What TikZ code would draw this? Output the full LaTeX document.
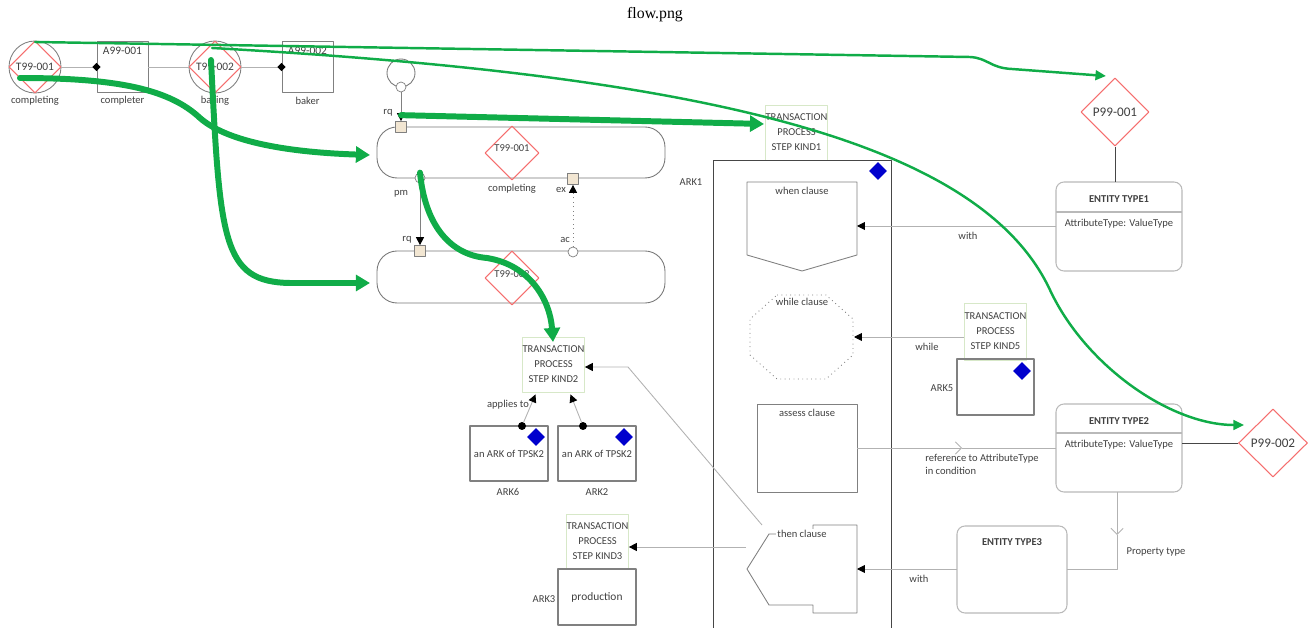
\documentclass[tikz,border=0pt]{standalone}
\usepackage{fontspec}
\setmainfont{Carlito}
\newfontfamily\titlefont{Liberation Serif}
\usetikzlibrary{shapes.geometric,arrows.meta,calc}
\definecolor{txt}{RGB}{64,64,64}
\definecolor{boxgray}{RGB}{128,128,128}
\definecolor{linegray}{RGB}{178,178,178}
\definecolor{procgray}{RGB}{120,120,120}
\definecolor{diared}{RGB}{245,110,110}
\definecolor{paleg}{RGB}{215,232,200}
\definecolor{portfill}{RGB}{242,230,210}
\definecolor{arkblue}{RGB}{0,0,205}
\definecolor{dkline}{RGB}{70,70,70}
\definecolor{entgray}{RGB}{185,185,185}
\definecolor{flowgreen}{RGB}{16,172,72}
\begin{document}
\begin{tikzpicture}[x=0.02cm,y=-0.02cm,
  font=\fontsize{6}{7.5}\selectfont, text=txt, line join=round,
  every node/.style={inner sep=0pt},
  tcirc/.style={circle, draw=boxgray, line width=0.5pt, minimum size=1.04cm},
  rdiam/.style={diamond, draw=diared, line width=0.6pt},
  abox/.style={draw=boxgray, line width=0.5pt, minimum width=1.02cm, minimum height=1.02cm},
  proc/.style={draw=procgray, line width=0.5pt, rounded corners=0.4cm, minimum width=5.76cm},
  port/.style={rectangle, draw=boxgray, fill=portfill, line width=0.4pt, minimum size=0.22cm},
  pcirc/.style={circle, draw=boxgray, fill=white, line width=0.4pt, minimum size=0.2cm},
  tpsk/.style={draw=paleg, line width=0.5pt, align=center, minimum width=1.1cm,
    minimum height=1.1cm, font=\fontsize{6}{8.5}\selectfont},
  arkbox/.style={draw=boxgray, line width=0.6pt, minimum width=1.56cm, minimum height=1.1cm},
  bdiam/.style={diamond, fill=arkblue, minimum size=0.36cm},
  kdiam/.style={diamond, fill=black, minimum size=0.17cm},
  kdot/.style={circle, fill=black, minimum size=0.16cm},
  conn/.style={draw=linegray, line width=0.5pt},
  dconn/.style={draw=dkline, line width=0.5pt},
  arr/.style={-{Triangle[length=4.5pt,width=4.5pt,color=black]}},
  barb/.style={-{Straight Barb[length=3.5pt,width=7pt]}},
  clause/.style={draw=boxgray, line width=0.5pt},
  ent/.style={draw=entgray, line width=0.6pt, rounded corners=0.16cm},
  gthick/.style={draw=flowgreen, line width=3.4pt, line cap=round,
    -{Triangle[length=8pt,width=9pt]}},
  gthin/.style={draw=flowgreen, line width=1.4pt, line cap=round,
    -{Triangle[length=6pt,width=5.5pt]}}]
\useasboundingbox (0,0) rectangle (1309,628);

\node (title) at (655,15) {\titlefont\fontsize{9}{10}\selectfont\color{black}flow.png};

% ---------- actor row ----------
\node[tcirc] (t1c) at (35,67) {};
\node[rdiam, minimum width=1.04cm, minimum height=1.04cm] (t1d) at (35,67) {};
\node (t1t) at (35,67) {\fontsize{6.5}{7}\selectfont T99-001};
\node (t1l) at (35,101) {completing};

\node[abox] (a1) at (122.5,67) {};
\node (a1t) at (122.5,51) {\fontsize{6.5}{7}\selectfont A99-001};
\node (a1l) at (122.5,101) {completer};

\node[tcirc] (t2c) at (215,67) {};
\node[rdiam, minimum width=1.04cm, minimum height=1.04cm] (t2d) at (215,67) {};
\node (t2t) at (215,67) {\fontsize{6.5}{7}\selectfont T99-002};
\node (t2l) at (215,101) {baking};

\node[abox] (a2) at (307.5,67) {};
\node (a2t) at (307.5,51) {\fontsize{6.5}{7}\selectfont A99-002};
\node (a2l) at (307.5,101) {baker};

\draw[conn] (t1c.east) -- (a1.west);
\draw[conn] (a1.east) -- (t2c.west);
\draw[conn] (t2c.east) -- (a2.west);
\node[kdiam] (a1m) at (a1.west) {};
\node[kdiam] (a2m) at (a2.west) {};

% ---------- transaction processes ----------
\node[proc, minimum height=1.02cm] (p1) at (521,152.5) {};
\node[rdiam, minimum width=1.08cm, minimum height=1.08cm] (p1d) at (512,153) {};
\node (p1dt) at (512,148) {T99-001};
\node (p1l) at (512,189) {completing};

\node[proc, minimum height=1.04cm] (p2) at (521,277) {};
\node[rdiam, minimum width=1.08cm, minimum height=1.08cm] (p2d) at (512,278) {};
\node (p2dt) at (512,274) {T99-002};

\node[circle, draw=procgray, line width=0.5pt, minimum size=0.56cm] (ini) at (401,73) {};
\node[pcirc] (inis) at (401,87) {};
\node[port] (rq1) at (401,127) {};
\node[pcirc] (pm) at (420,178) {};
\node[port] (ex) at (573,179) {};
\node[port] (rq2) at (420,251) {};
\node[pcirc] (ac) at (573,252) {};

\draw[conn, draw=boxgray, arr] (inis.south) -- (rq1.north);
\draw[conn, draw=boxgray, arr] (pm.south) -- (rq2.north);
\draw[conn, draw=boxgray, dotted, arr] (ac.north) -- (ex.south);

\node (rq1l) at (388,113) {rq};
\node (pml) at (401,194) {pm};
\node (exl) at (561,190) {ex};
\node (rq2l) at (407,240) {rq};
\node (acl) at (565,240) {ac};

% ---------- step kinds and ARKs ----------
\node[tpsk] (tp1) at (796.5,132.5) {TRANSACTION\\PROCESS\\STEP KIND1};
\node[tpsk] (tp2) at (553.5,364.5) {TRANSACTION\\PROCESS\\STEP KIND2};
\node[tpsk] (tp3) at (597.5,541.5) {TRANSACTION\\PROCESS\\STEP KIND3};
\node[tpsk, minimum height=1.14cm] (tp5) at (995.5,331.5) {TRANSACTION\\PROCESS\\STEP KIND5};

\node[arkbox] (ark6) at (509,453.5) {an ARK of TPSK2};
\node[arkbox] (ark2) at (597,453.5) {an ARK of TPSK2};
\node[arkbox, minimum height=1.12cm] (ark3) at (597,597) {\fontsize{6.5}{7}\selectfont production};
\node[arkbox, minimum width=1.54cm, minimum height=1.12cm] (ark5) at (995.5,387) {};
\node[bdiam] (b6) at (536,437) {};
\node[bdiam] (b2) at (624,437) {};
\node[bdiam] (b5) at (1022,371) {};

\node (ark6l) at (508,492) {ARK6};
\node (ark2l) at (597,492) {ARK2};
\node (ark3l) at (544,599) {ARK3};
\node (ark5l) at (942,388) {ARK5};

\node[kdot] (d6) at (522,426) {};
\node[kdot] (d2) at (583,426) {};
\draw[conn, arr] (d6) -- ($(tp2.south)+(-18,2)$);
\draw[conn, arr] (d2) -- ($(tp2.south)+(17,2)$);
\node (appl) at (508,405) {applies to};

% ---------- ARK1 with its clauses ----------
\draw[draw=dkline, line width=0.55pt] (713,640) -- (713,160) -- (891,160) -- (891,640);
\node (ark1l) at (691,182) {ARK1};
\node[bdiam] (b1) at (878,171) {};

\draw[clause] (747,182) -- (857,182) -- (857,255) -- (802,271) -- (747,255) -- cycle;
\node (whent) at (802,191) {when clause};
\coordinate (whenR) at (857,226);

\draw[clause, dotted] (777,295) -- (826,295) -- (853,319) -- (853,355) -- (826,379)
  -- (777,379) -- (750,355) -- (750,319) -- cycle;
\node (whilet) at (802,302) {while clause};
\coordinate (whileR) at (854,337);

\draw[clause] (757,404) rectangle (857,492);
\node (assesst) at (807,413) {assess clause};
\coordinate (assessR) at (857,448);

\draw[clause] (813,534) -- (813,525) -- (857,525) -- (857,613) -- (813,613) -- (813,605)
  -- (769,605) -- (747,569) -- (769,534) -- cycle;
\node[fill=white, inner sep=1pt] (thent) at (802,534) {then clause};
\coordinate (thenR) at (857,569);
\coordinate (thenL) at (746,547);
\coordinate (thenT) at (762,525);
\coordinate (bend) at (628,367);

% ---------- entity types ----------
\draw[ent] (1056,182) rectangle (1182,271);
\draw[draw=entgray, line width=0.6pt] (1056,212) -- (1182,212);
\node (e1t) at (1119,199) {\bfseries ENTITY TYPE1};
\node (e1a) at (1119,224) {AttributeType: ValueType};
\coordinate (e1N) at (1115,182);
\coordinate (e1W) at (1056,226);

\draw[ent] (1056,404) rectangle (1182,492);
\draw[draw=entgray, line width=0.6pt] (1056,433) -- (1182,433);
\node (e2t) at (1119,421) {\bfseries ENTITY TYPE2};
\node (e2a) at (1119,445) {AttributeType: ValueType};
\coordinate (e2W) at (1056,448);
\coordinate (e2E) at (1182,443);
\coordinate (e2S) at (1117,492);

\draw[ent] (957,526) rectangle (1067,613);
\node (e3t) at (1012,542) {\bfseries ENTITY TYPE3};
\coordinate (e3W) at (957,569);
\coordinate (e3E) at (1067,569);

\node[rdiam, minimum width=1.36cm, minimum height=1.36cm] (pp1) at (1115,112) {};
\node (pp1t) at (1115,112) {\fontsize{7.5}{8}\selectfont P99-001};
\node[rdiam, minimum width=1.38cm, minimum height=1.36cm] (pp2) at (1273,443) {};
\node (pp2t) at (1273,443) {\fontsize{7.5}{8}\selectfont P99-002};

% ---------- connectors ----------
\draw[dconn] (pp1.south) -- (e1N);
\draw[dconn] (e2E) -- (pp2.west);

\draw[conn, arr] (e1W) -- (whenR);
\node (withl1) at (968,236) {with};
\draw[conn, arr] (tp5.west |- whileR) -- (whileR);
\node (whilel) at (927,347) {while};

\coordinate (refarr) at (962,448);
\draw[conn, barb] (assessR) -- (refarr);
\draw[conn] (refarr) -- (e2W);
\node[align=left, anchor=north west] (refl) at (925,454) {reference to AttributeType\\in condition};

\coordinate (proparr) at (1117,535);
\draw[conn, barb] (e2S) -- (proparr);
\draw[conn] (proparr) -- (1117,569) -- (e3E);
\node (propl) at (1156,552) {Property type};

\draw[conn, arr] (e3W) -- (thenR);
\node (withl2) at (919,579) {with};

\draw[conn, arr] (thenL) -- (tp3.east |- thenL);
\draw[conn, arr] (thenT) -- (bend) -- (tp2.east |- bend);

% ---------- green flow overlay ----------
\coordinate (g1s) at (35,42);
\coordinate (g2s) at (212,48);
\coordinate (g3s) at (20,78);
\coordinate (g4s) at (211,60);
\draw[gthin] (g1s) -- (970,57) .. controls (988,58) and (990,68) .. (1012,69) -- (1106,76);
\draw[gthin] (g2s) .. controls (700,75) and (980,140) .. (1050,290)
  .. controls (1085,365) and (1170,425) .. (1244,425);
\draw[gthick] (g3s) .. controls (120,78) and (170,90) .. (200,118)
  .. controls (225,140) and (280,152) .. (370,155);
\draw[gthick] (g4s) .. controls (220,240) and (222,282) .. (290,283) -- (370,283);
\draw[gthick] (rq1.north) ++(0,-6) -- (764,124);
\draw[gthick] (pm.north) .. controls (425,225) and (450,255) .. (487,258)
  .. controls (530,265) and (550,300) .. (553,342);
\end{tikzpicture}
\end{document}
